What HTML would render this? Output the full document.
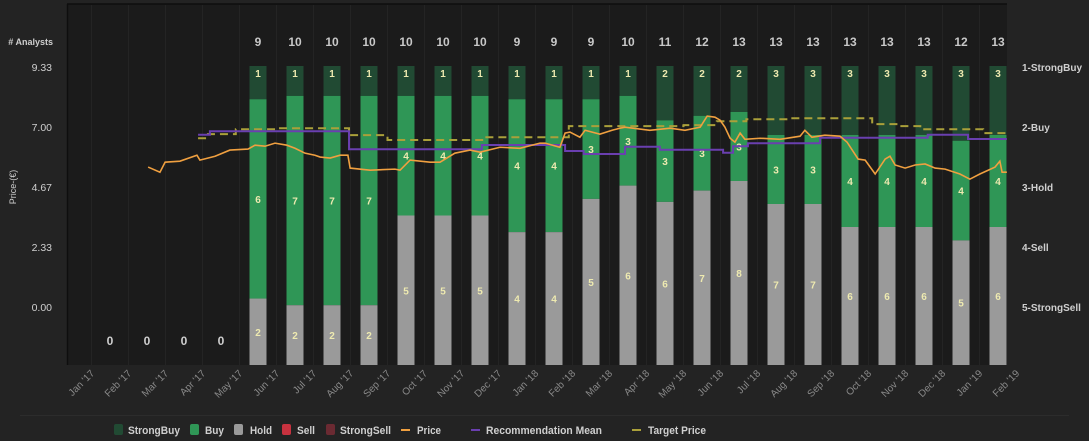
<!DOCTYPE html>
<html><head><meta charset="utf-8"><style>
html,body{margin:0;padding:0;background:#232323;}
svg{display:block;font-family:"Liberation Sans",sans-serif;}
</style></head><body>
<svg id="chart" width="1089" height="441" viewBox="0 0 1089 441" xmlns="http://www.w3.org/2000/svg">
<rect x="0" y="0" width="1089" height="441" fill="#232323"/>
<rect x="67" y="4" width="940" height="361" fill="#1b1b1b"/>
<line x1="67" y1="4" x2="1007" y2="4" stroke="#0e0e0e" stroke-width="1.5"/>
<line x1="67.5" y1="4" x2="67.5" y2="365" stroke="#0e0e0e" stroke-width="1.5"/>
<g id="grid"></g>
<g id="bars"></g>
<g id="lines"></g>
<g id="axes"></g>
<line x1="20" y1="415.5" x2="1069" y2="415.5" stroke="#2c2c2c"/>
<g id="legend"></g>
</svg>
<script>
const months = ["Jan '17","Feb '17","Mar '17","Apr '17","May '17","Jun '17","Jul '17","Aug '17","Sep '17","Oct '17","Nov '17","Dec '17","Jan '18","Feb '18","Mar '18","Apr '18","May '18","Jun '18","Jul '18","Aug '18","Sep '18","Oct '18","Nov '18","Dec '18","Jan '19","Feb '19"];
const strongBuy = [0,0,0,0,1,1,1,1,1,1,1,1,1,1,1,2,2,2,3,3,3,3,3,3,3];
const buy       = [0,0,0,0,6,7,7,7,4,4,4,4,4,3,3,3,3,3,3,3,4,4,4,4,4];
const hold      = [0,0,0,0,2,2,2,2,5,5,5,4,4,5,6,6,7,8,7,7,6,6,6,5,6];
const priceTicks = ["0.00","2.33","4.67","7.00","9.33"];
const priceTickVals = [0,2.33,4.67,7.0,9.33];
const recLabels = ["1-StrongBuy","2-Buy","3-Hold","4-Sell","5-StrongSell"];
const priceT = [1.03,1.35,1.49,1.89,2.35,2.43,2.84,3.24,3.73,3.92,4.19,4.46,4.78,5.0,5.27,5.54,5.68,5.95,6.22,6.43,6.49,7.03,7.7,7.84,8.11,8.65,8.92,9.32,9.73,10.0,10.54,11.08,11.62,11.76,12.16,12.3,12.43,12.7,12.84,13.24,13.57,13.78,13.92,14.59,15.14,15.54,15.95,16.14,16.35,16.49,16.62,16.76,16.89,17.03,17.16,17.57,18.11,18.65,18.78,18.97,19.32,19.73,19.92,20.22,20.41,20.68,20.95,21.08,21.22,21.49,21.76,22.03,22.3,22.57,22.97,23.24,23.51,23.92,24.05,24.11,24.24];
const priceV = [5.44,5.24,5.63,5.67,5.9,5.71,5.86,6.1,6.14,6.29,6.25,6.37,6.29,6.17,5.98,5.9,5.83,5.79,5.9,5.9,5.4,5.32,5.36,5.32,5.71,5.63,5.63,5.98,6.1,6.02,6.21,6.17,6.37,6.37,6.21,6.76,6.8,6.6,6.87,6.72,6.87,6.95,6.99,6.87,6.95,6.87,6.99,7.42,7.38,7.26,6.99,6.56,6.41,6.76,6.52,6.56,6.52,6.64,6.87,6.6,6.68,6.64,6.41,5.75,5.71,5.17,5.75,5.86,5.52,5.4,5.52,5.56,5.4,5.36,5.17,4.97,5.17,5.44,5.67,5.24,5.24];
const recT = [2.38,2.7,6.46,10.05,12.3,12.8,13.92,14.86,16.57,16.84,17.24,19.19,22.1,23.19,24.24];
const recV = [2.13,2.07,2.37,2.30,2.40,2.45,2.33,2.38,2.43,2.32,2.27,2.18,2.13,2.20,2.20];
const tgtT = [2.38,2.6,3.4,4.5,6.46,7.5,10.1,12.4,15.5,16.4,17.2,18.4,20.6,21.3,21.9,23.6,24.24];
const tgtV = [6.56,6.72,6.91,6.95,6.68,6.49,6.60,7.03,7.07,7.22,7.30,7.34,7.11,7.03,6.91,6.76,6.72];

const NS="http://www.w3.org/2000/svg";
function mk(tag,attrs,parent,text){const e=document.createElementNS(NS,tag);for(const k in attrs)e.setAttribute(k,attrs[k]);if(text!==undefined)e.textContent=text;parent.appendChild(e);return e;}
const xOf=t=>110+37*t;
const yPrice=v=>307-v*(240/9.33);
const yRec=v=>67+(v-1)*60;
const barTop=66, barBot=365, bw=17;
const grid=document.getElementById('grid'),bars=document.getElementById('bars'),lines=document.getElementById('lines'),axes=document.getElementById('axes'),legend=document.getElementById('legend');

months.forEach((m,j)=>{
  const gx=xOf(j)-18.5;
  if(gx>68&&gx<1006){const l=mk('line',{x1:gx,y1:5,x2:gx,y2:365,stroke:'#242424'},grid);
  
  }
  const lx=xOf(j)-15, ly=374;
  const t=mk('text',{x:lx,y:ly,fill:'#8a8a8a','font-size':'10','text-anchor':'end',transform:`rotate(-45 ${lx} ${ly})`},axes,m);
  
  
});

strongBuy.forEach((sb,i)=>{
  const total=sb+buy[i]+hold[i];
  const cx=xOf(i);
  if(total===0){
    const z=mk('text',{x:cx,y:345,fill:'#cfcfcf','font-size':'12','font-weight':'bold','text-anchor':'middle'},bars,'0');
    
    
    return;
  }
  const c=mk('text',{x:cx,y:46,fill:'#c8c8c8','font-size':'12','font-weight':'bold','text-anchor':'middle'},bars,String(total));
  
  
  const H=barBot-barTop;
  const segs=[[sb,'#214a33','strongbuy'],[buy[i],'#2f9656','buy'],[hold[i],'#9a9a9a','hold']];
  let y=barTop;
  segs.forEach(([n,col,nm],k)=>{
    if(n<=0)return;
    const h=H*n/total;
    const r=mk('rect',{x:cx-bw/2,y:y,width:bw,height:h,fill:col},bars);
    
    
    const ty=k===0?y+11:y+h/2+4;
    const lt=mk('text',{x:cx,y:ty,fill:'#eeeab0','font-size':'10','font-weight':'bold','text-anchor':'middle'},bars,String(n));
    
    
    y+=h;
  });
});

function stepPath(T,V,yf){let d='';T.forEach((t,i)=>{const x=xOf(t),y=yf(V[i]);if(i===0)d+=`M${x},${y}`;else d+=`H${x}V${y}`;});return d;}
const tg=mk('path',{d:stepPath(tgtT,tgtV,yPrice),fill:'none',stroke:'#aaa03a','stroke-width':2,'stroke-dasharray':'8,5'},lines);


const rc=mk('path',{d:stepPath(recT,recV,yRec),fill:'none',stroke:'#6a3fb0','stroke-width':2},lines);


const pp=priceT.map((t,i)=>`${i?'L':'M'}${xOf(t)},${yPrice(priceV[i])}`).join('');
const pr=mk('path',{d:pp,fill:'none',stroke:'#f0a040','stroke-width':1.6},lines);



priceTicks.forEach((s,i)=>{
  const t=mk('text',{x:52,y:yPrice(priceTickVals[i])+4,fill:'#cfcfcf','font-size':'10.5','text-anchor':'end'},axes,s);
  
  
});
recLabels.forEach((s,i)=>{
  const t=mk('text',{x:1022,y:yRec(i+1)+4,fill:'#cfcfcf','font-size':'10','font-weight':'bold'},axes,s);
  
  
});
const an=mk('text',{x:53,y:45,fill:'#cfcfcf','font-size':'9','font-weight':'bold','text-anchor':'end'},axes,'# Analysts');


const yt=mk('text',{x:16,y:187,fill:'#cfcfcf','font-size':'9','text-anchor':'middle',transform:'rotate(-90 16 187)'},axes,'Price-(€)');



const leg=[['StrongBuy','#214a33','box',114,128,52],['Buy','#2f9656','box',190,205,19],['Hold','#9a9a9a','box',234,250,22],['Sell','#c8323f','box',282,297,18],['StrongSell','#6b2a32','box',326,340,51],['Price','#f0a040','line',401,417,24],['Recommendation Mean','#6a3fb0','line',471,486,116],['Target Price','#aaa03a','line',632,648,58]];
leg.forEach(([n,col,kind,x,tx,tw])=>{
  if(kind==='box'){const r=mk('rect',{x:x,y:424,width:9,height:11,rx:2,fill:col},legend);
    
    }
  else{const l=mk('line',{x1:x,y1:430,x2:x+9,y2:430,stroke:col,'stroke-width':2},legend);
    
    }
  const t=mk('text',{x:tx,y:434,fill:'#cfcfcf','font-size':'11','font-weight':'bold',textLength:tw,lengthAdjust:'spacingAndGlyphs'},legend,n);
  
  
});
</script>
</body></html>
